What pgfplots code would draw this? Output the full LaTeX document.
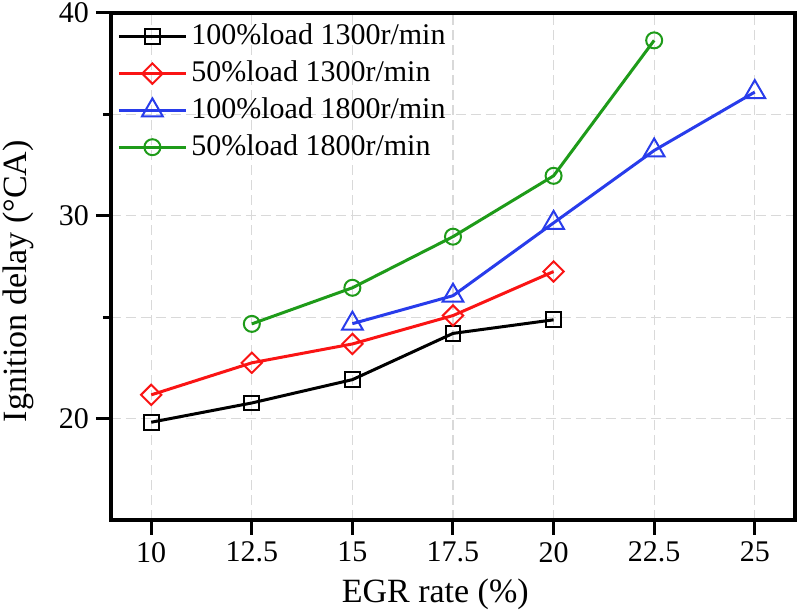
\documentclass[border=0pt]{standalone}
\usepackage{fontspec}
\setmainfont{Liberation Serif}
\usepackage{pgfplots}
\usepackage{pgfplotstable}
\pgfplotsset{compat=1.18}
\definecolor{cred}{RGB}{250,20,20}
\definecolor{cblue}{RGB}{40,60,235}
\definecolor{cgreen}{RGB}{30,155,25}
\pgfplotstableread{
x y
10 19.82
12.5 20.77
15 21.92
17.5 24.20
20 24.87
}\tblA
\pgfplotstableread{
x y
10 21.17
12.5 22.75
15 23.68
17.5 25.08
20 27.25
}\tblB
\pgfplotstableread{
x y
15 24.68
17.5 26.06
20 29.65
22.5 33.22
25 36.10
}\tblC
\pgfplotstableread{
x y
12.5 24.67
15 26.45
17.5 28.97
20 31.97
22.5 38.65
}\tblD
\begin{document}
\begin{tikzpicture}
\useasboundingbox (-55.5pt,-46.5pt) rectangle (344.5pt,260pt);
\begin{axis}[
  scale only axis, width=342pt, height=253.5pt,
  at={(0,0)}, anchor=south west,
  xmin=9, xmax=26, ymin=15, ymax=40,
  xtick={10,12.5,15,17.5,20,22.5,25},
  xticklabels={10,12.5,15,17.5,20,22.5,25},
  ytick={20,30,40}, yticklabels={20,30,40},
  minor ytick={25,35},
  grid=both,
  major grid style={black!15, dash pattern=on 5pt off 2.5pt, line width=0.6pt},
  minor grid style={black!15, dash pattern=on 5pt off 2.5pt, line width=0.6pt},
  axis line style={line width=1.6pt},
  tick style={line width=1.5pt, black},
  major tick length=7.5pt, minor tick length=4pt,
  tick align=outside, xtick pos=bottom, ytick pos=left,
  ticklabel style={font=\fontsize{15}{18}\selectfont},
  xlabel={EGR rate (\%)}, ylabel={Ignition delay (°CA)},
  label style={font=\fontsize{17}{20}\selectfont},
  xlabel style={at={(axis description cs:0.474,-0.146)}, anchor=center},
  ylabel style={at={(axis description cs:-0.136,0.471)}, anchor=center},
  every axis plot/.append style={line width=1.5pt},
  legend style={draw=none, fill=none, at={(axis description cs:0.0,0.998)}, anchor=north west,
    font=\fontsize{15}{18}\selectfont,
    nodes={text height=11pt, text depth=3pt, inner ysep=2.2pt, inner xsep=2pt}},
  legend cell align=left,
  legend image code/.code={\draw[mark repeat=2,mark phase=2] plot coordinates {(0pt,0pt)(16.75pt,0pt)(33.5pt,0pt)};},
]
\addplot[black, mark=square, mark size=3.7pt, mark options={solid, line width=1pt, fill=white}] table {\tblA};
\addlegendentry{100\%load 1300r/min}
\addplot[cred, mark=square, mark size=3.6pt, mark options={solid, rotate=45, line width=1pt, fill=white}] table {\tblB};
\addlegendentry{50\%load 1300r/min}
\addplot[cblue, mark=triangle, mark size=6pt, mark options={solid, line width=1pt, fill=white}] table {\tblC};
\addlegendentry{100\%load 1800r/min}
\addplot[cgreen, mark=o, mark size=4pt, mark options={solid, line width=1pt, fill=white}] table {\tblD};
\addlegendentry{50\%load 1800r/min}
\end{axis}
\end{tikzpicture}
\end{document}
